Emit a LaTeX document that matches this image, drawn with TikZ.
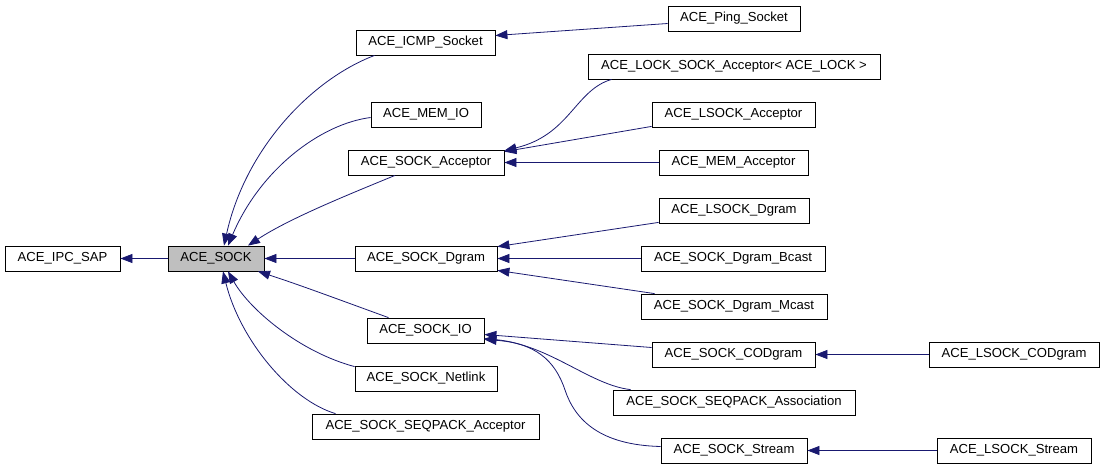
\documentclass[tikz,border=0pt]{standalone}
\usepackage{fontspec}
\setmainfont{Liberation Sans}
\usepackage{tikz}
\usetikzlibrary{calc}
\usetikzlibrary{arrows.meta}
\definecolor{edgeblue}{HTML}{191970}
\definecolor{basegray}{HTML}{BFBFBF}
\tikzset{
	cls/.style={draw=black, line width=0.8pt, minimum height=25pt, inner sep=0pt, fill=white,
		font=\fontsize{13.1}{14}\selectfont},
	clsbase/.style={cls, fill=basegray},
	inh/.style={draw=edgeblue, line width=0.8pt, -{Triangle[length=12pt,width=9pt]}},
}
\begin{document}
\begin{tikzpicture}[x=1pt,y=-1pt]
		\useasboundingbox (0,0) rectangle (1104,467);
		% classes, column by column
		\node[cls, minimum width=115] (ipc) at (62.5,258.5) {ACE\_IPC\_SAP};
		\node[clsbase, minimum width=96] (sock) at (216,258.5) {ACE\_SOCK};
		\node[cls, minimum width=139] (icmp) at (425.5,42.5) {ACE\_ICMP\_Socket};
		\node[cls, minimum width=110] (memio) at (426,114.5) {ACE\_MEM\_IO};
		\node[cls, minimum width=156] (acc) at (426,162.5) {ACE\_SOCK\_Acceptor};
		\node[cls, minimum width=142] (dgram) at (426,258.5) {ACE\_SOCK\_Dgram};
		\node[cls, minimum width=117] (io) at (425.5,330.5) {ACE\_SOCK\_IO};
		\node[cls, minimum width=142] (netlink) at (426,378.5) {ACE\_SOCK\_Netlink};
		\node[cls, minimum width=227] (seqacc) at (425.5,426.5) {ACE\_SOCK\_SEQPACK\_Acceptor};
		\node[cls, minimum width=132] (ping) at (734,18.5) {ACE\_Ping\_Socket};
		\node[cls, minimum width=292] (lockacc) at (734,66.5) {ACE\_LOCK\_SOCK\_Acceptor< ACE\_LOCK >};
		\node[cls, minimum width=163] (lacc) at (733.5,114.5) {ACE\_LSOCK\_Acceptor};
		\node[cls, minimum width=149] (memacc) at (733.5,162.5) {ACE\_MEM\_Acceptor};
		\node[cls, minimum width=150] (ldgram) at (734,210.5) {ACE\_LSOCK\_Dgram};
		\node[cls, minimum width=184] (bcast) at (733,258.5) {ACE\_SOCK\_Dgram\_Bcast};
		\node[cls, minimum width=186] (mcast) at (734,306.5) {ACE\_SOCK\_Dgram\_Mcast};
		\node[cls, minimum width=163] (cod) at (733.5,354.5) {ACE\_SOCK\_CODgram};
		\node[cls, minimum width=242] (assoc) at (734,402.5) {ACE\_SOCK\_SEQPACK\_Association};
		\node[cls, minimum width=146] (stream) at (734,450.5) {ACE\_SOCK\_Stream};
		\node[cls, minimum width=170] (lcod) at (1014,354.5) {ACE\_LSOCK\_CODgram};
		\node[cls, minimum width=154] (lstream) at (1014,450.5) {ACE\_LSOCK\_Stream};
		% inheritance edges, arrow at the base class
		\draw[inh] (sock.west) -- (ipc.east);
		\draw[inh] ($(icmp.south west)+(19,0)$) .. controls (310,80) and (245,150) .. ($(sock.north)+(8,0)$);
		\draw[inh] ($(memio.west)+(0,3)$) .. controls (320,124) and (260,170) .. ($(sock.north)+(12,0)$);
		\draw[inh] ($(acc.south)+(-31,0)$) .. controls (350,194) and (290,218) .. ($(sock.north)+(32,0)$);
		\draw[inh] (dgram.west) -- (sock.east);
		\draw[inh] ($(io.north)+(-37,0)$) .. controls (340,300) and (300,285) .. ($(sock.south)+(42,0)$);
		\draw[inh] ($(netlink.north west)+(0,1)$) .. controls (300,352) and (250,310) .. ($(sock.south)+(12,0)$);
		\draw[inh] ($(seqacc.north)+(-90,0)$) .. controls (290,400) and (240,340) .. ($(sock.south)+(7,0)$);
		\draw[inh] ($(ping.west)+(0,5)$) -- ($(icmp.east)+(0,-7)$);
		\draw[inh] ($(lockacc.south west)+(24,0)$) .. controls (575,90) and (570,135) .. ($(acc.north east)+(0,1)$);
		\draw[inh] ($(lacc.south west)+(0,-1)$) -- ($(acc.north east)+(0,2)$);
		\draw[inh] (memacc.west) -- (acc.east);
		\draw[inh] ($(ldgram.south west)+(0,-1)$) -- ($(dgram.north east)+(0,1)$);
		\draw[inh] (bcast.west) -- (dgram.east);
		\draw[inh] ($(mcast.north west)+(14,0)$) -- ($(dgram.south east)+(0,-1)$);
		\draw[inh] ($(cod.west)+(0,-7)$) -- ($(io.east)+(0,4)$);
		\draw[inh] ($(assoc.north west)+(18,0)$) .. controls (590,385) and (550,345) .. ($(io.east)+(0,8)$);
		\draw[inh] ($(stream.west)+(0,-4)$) .. controls (600,445) and (575,420) .. (565,390) .. controls (555,360) and (535,343) .. ($(io.east)+(0,9)$);
		\draw[inh] (lcod.west) -- (cod.east);
		\draw[inh] (lstream.west) -- (stream.east);
	\end{tikzpicture}
\end{document}
